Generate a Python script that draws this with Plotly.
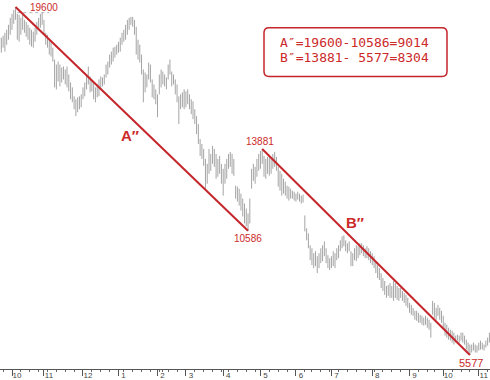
import pandas as pd
import plotly.graph_objects as go

# ---------------- data ----------------
holidays = ["2007-10-01", "2007-10-02", "2007-10-03", "2007-10-04", "2007-10-05",
            "2007-12-31", "2008-01-01", "2008-02-06", "2008-02-07", "2008-02-08",
            "2008-02-11", "2008-02-12", "2008-04-04", "2008-05-01", "2008-05-02",
            "2008-06-09", "2008-09-15", "2008-09-29", "2008-09-30", "2008-10-01",
            "2008-10-02", "2008-10-03"]
first_day = "2007-09-20"
last_day = "2008-11-11"

highs = (
    # Sep 2007
    [18400, 18360, 18440, 18560, 18680, 18880, 19160]
    # Oct 2007
    + [19320, 19480, 19600, 19320, 19280, 19160, 19280, 19080, 19000, 18880, 18760, 18680,
       18600, 18760, 19000, 19160, 19320, 19360]
    # Nov 2007
    + [19080, 18560, 18480, 18280, 18200, 17960, 17480, 17280, 17400, 17280, 17160, 17200,
       17080, 17200, 16880, 16560, 16360, 16000, 15880, 15960, 16000, 16080]
    # Dec 2007
    + [16360, 16560, 16880, 17200, 16800, 16680, 16560, 16360, 16480, 16680, 16800, 16760,
       16880, 17280, 17400, 17680, 17800, 17960, 18000, 18080]
    # Jan 2008
    + [18200, 18360, 18560, 18680, 18880, 19080, 19160, 19200, 19200, 19080, 18800, 18280,
       18080, 17680, 17080, 16960, 16880, 17360, 17280, 16680, 16480, 16280]
    # Feb 2008
    + [16080, 16880, 17080, 17000, 16880, 16760, 17280, 17480, 17000, 16880, 16680, 16480,
       16000, 16080, 16160, 16280]
    # Mar 2008
    + [16200, 16280, 16080, 15880, 15800, 15480, 15200, 14880, 14280, 14080, 13880, 13480,
       13280, 13880, 13680, 14000, 13880, 13680, 13480, 13600, 13280]
    # Apr 2008
    + [13080, 13280, 13480, 13680, 13760, 13680, 13480, 12400, 12360, 12280, 12080, 11880,
       11680, 11480, 11280, 11880, 13080, 13280, 13160, 13480, 13680]
    # May 2008
    + [13800, 13881, 13600, 13480, 13560, 13600, 13480, 13680, 13760, 13560, 13160, 13000,
       12880, 12680, 12560, 12400, 12360, 12280, 12200, 12160]
    # Jun 2008
    + [12080, 12160, 12080, 12000, 12040, 11200, 10680, 10480, 10000, 9880, 9680, 9760,
       9560, 9680, 9880, 10000, 10160, 9880, 9600, 9480]
    # Jul 2008
    + [9560, 9760, 9680, 9880, 10000, 10200, 10360, 10400, 10200, 10080, 10160, 9760,
       9680, 9880, 10000, 9960, 10080, 10080, 10000, 9880, 9960, 9880, 9760]
    # Aug 2008
    + [9680, 9560, 9360, 9200, 9080, 8880, 8680, 8560, 8360, 8400, 8480, 8360,
       8560, 8480, 8360, 8280, 8280, 8160, 8080, 8000, 7880]
    # Sep 2008
    + [7680, 7600, 7480, 7360, 7360, 7280, 7200, 7160, 7080, 7160, 7080, 7000,
       6880, 7760, 7680, 7480, 7600, 7480, 7360]
    # Oct 2008
    + [7160, 6880, 6800, 6680, 6600, 6560, 6480, 6360, 6400, 6360, 6480, 6480,
       6360, 6200, 6080, 6000, 6000, 6080, 6000, 5960]
    # Nov 2008
    + [6080, 6160, 6080, 6000, 6160, 6280, 6480]
)

lows = (
    [17880, 17760, 17960, 17800, 18080, 18280, 18480]
    + [18680, 18920, 19080, 18280, 18200, 18480, 18680, 18560, 18400, 18280, 18080, 18000,
       17960, 18200, 18480, 18680, 18760, 18880]
    + [18480, 18080, 17960, 17680, 17600, 17400, 16360, 16280, 16600, 16400, 16560, 16680,
       16480, 16360, 16200, 15880, 15760, 15480, 15200, 15360, 15480, 15560]
    + [15880, 16000, 16280, 16480, 16160, 16200, 15880, 15760, 15960, 16000, 16280, 16400,
       16480, 16760, 16880, 17160, 17280, 17400, 17560, 17680]
    + [17760, 17800, 18080, 18200, 18280, 18480, 18680, 18880, 18800, 18480, 17680, 17480,
       17360, 16880, 15760, 16160, 16360, 16680, 16560, 15960, 15880, 15680]
    + [15160, 16080, 16360, 16480, 16400, 16280, 16680, 16880, 16400, 16480, 16080, 15760,
       14880, 15480, 15560, 15480]
    + [15560, 15680, 15480, 15280, 15080, 14880, 14480, 14080, 13600, 13480, 13200, 12280,
       12480, 12880, 13000, 13280, 13160, 12680, 12760, 12880, 12480]
    + [12000, 12480, 12680, 13080, 13160, 12880, 12800, 11880, 11760, 11600, 11400, 11160,
       10880, 10760, 10586, 10880, 12280, 12600, 12480, 12760, 13000]
    + [13080, 13280, 12760, 12680, 12880, 12800, 12880, 13080, 13160, 13000, 12360, 12200,
       12000, 12080, 12000, 11880, 11800, 11880, 11880, 11800]
    + [11760, 11840, 11760, 11680, 11720, 10560, 10200, 9880, 9400, 9200, 9080, 9160,
       8880, 9080, 9280, 9360, 9560, 9280, 9080, 9000]
    + [9080, 9160, 9080, 9400, 9480, 9760, 9880, 9960, 9760, 9680, 9760, 9160,
       9160, 9400, 9360, 9480, 9600, 9680, 9560, 9480, 9480, 9400, 9280]
    + [9200, 9080, 8880, 8680, 8600, 8280, 8160, 8000, 7880, 7960, 7880, 7880,
       7760, 7880, 7800, 7760, 7880, 7760, 7680, 7560, 7480]
    + [7280, 7200, 7160, 7000, 6960, 6880, 6880, 6800, 6760, 6800, 6680, 6600,
       6280, 7200, 7080, 7000, 7160, 7000, 6880]
    + [6680, 6360, 6280, 6200, 6160, 6080, 6000, 6080, 6160, 6080, 6160, 6080,
       6000, 5800, 5680, 5577, 5680, 5760, 5680, 5680]
    + [5760, 5800, 5800, 5760, 5880, 5960, 6080]
)

month_ticks = ["2007-10-08", "2007-11-01", "2007-12-03", "2008-01-02", "2008-02-01",
               "2008-03-03", "2008-04-01", "2008-05-05", "2008-06-02", "2008-07-01",
               "2008-08-01", "2008-09-01", "2008-10-06", "2008-11-03"]
month_labels = ["10", "11", "12", "1", "2", "3", "4", "5", "6", "7", "8", "9", "10", "11"]

line_a_dates = ["2007-10-10", "2008-04-22"]
line_a_values = [19600, 10586]
line_b_dates = ["2008-05-06", "2008-10-27"]
line_b_values = [13881, 5577]
leader_dates = ["2007-10-11", "2007-11-06"]
leader_values = [19370, 19370]

summary_lines = ["A″=19600-10586=9014", "B″=13881- 5577=8304"]

# ---------------- figure ----------------
days = [d for d in pd.bdate_range(first_day, last_day) if d.strftime("%Y-%m-%d") not in holidays]
assert len(days) == len(highs) == len(lows), (len(days), len(highs), len(lows))

bx, by = [], []
for d, h, l in zip(days, highs, lows):
    bx += [d, d, None]
    by += [l, h, None]

RED = "#c4262b"
TXT = "#cc2a2a"

fig = go.Figure()
fig.add_trace(go.Scatter(x=bx, y=by, mode="lines", line=dict(color="#a4a4a4", width=1),
                         hoverinfo="skip", showlegend=False))
fig.add_trace(go.Scatter(x=leader_dates, y=leader_values, mode="lines",
                         line=dict(color="#b0b0b0", width=1, dash="dot"), showlegend=False))
fig.add_trace(go.Scatter(x=line_a_dates, y=line_a_values, mode="lines",
                         line=dict(color=RED, width=2), showlegend=False))
fig.add_trace(go.Scatter(x=line_b_dates, y=line_b_values, mode="lines",
                         line=dict(color=RED, width=2), showlegend=False))

lab_font = dict(family="Liberation Sans, Arial, sans-serif", size=10, color=TXT)
ann = [
    dict(x=line_a_dates[0], y=line_a_values[0], text="19600", xanchor="left", yanchor="middle",
         xshift=12, yshift=-1, showarrow=False, font=lab_font),
    dict(x=line_a_dates[1], y=line_a_values[1], text="10586", xanchor="center", yanchor="top",
         yshift=0, showarrow=False, font=lab_font),
    dict(x=line_b_dates[0], y=line_b_values[0], text="13881", xanchor="center", yanchor="bottom",
         xshift=-2, yshift=0, showarrow=False, font=lab_font),
    dict(x=line_b_dates[1], y=line_b_values[1], text="5577", xanchor="center", yanchor="top",
         xshift=1, yshift=0, showarrow=False,
         font=dict(family="Liberation Sans, Arial, sans-serif", size=11, color=TXT)),
    dict(x=119 / 490, y=1 - 136 / 371, xref="paper", yref="paper", text="<b>A″</b>",
         showarrow=False, font=dict(family="Liberation Sans, Arial, sans-serif", size=15, color=TXT)),
    dict(x=366 / 490, y=1 - 224 / 371, xref="paper", yref="paper", text="<b>B″</b>",
         showarrow=False, font=dict(family="Liberation Sans, Arial, sans-serif", size=15, color=TXT)),
]
for k, t in enumerate(summary_lines):
    ann.append(dict(x=278 / 490, y=1 - (43 + 15 * k) / 371, xref="paper", yref="paper",
                    text=t, xanchor="left", yanchor="middle", showarrow=False,
                    font=dict(family="DejaVu Sans Mono, monospace", size=13, color=TXT)))

# rounded box (paper coords)
x0, x1 = 264 / 490, 447 / 490
y0, y1 = 1 - 77 / 371, 1 - 28 / 371
rx, ry = 5 / 490, 5 / 371
path = (f"M {x0+rx},{y1} L {x1-rx},{y1} Q {x1},{y1} {x1},{y1-ry} "
        f"L {x1},{y0+ry} Q {x1},{y0} {x1-rx},{y0} L {x0+rx},{y0} Q {x0},{y0} {x0},{y0+ry} "
        f"L {x0},{y1-ry} Q {x0},{y1} {x0+rx},{y1} Z")

fig.update_layout(
    width=490, height=380,
    margin=dict(l=0, r=0, t=0, b=9),
    paper_bgcolor="white", plot_bgcolor="white",
    annotations=ann,
    shapes=[dict(type="path", xref="paper", yref="paper", path=path,
                 line=dict(color=RED, width=1.5))],
    showlegend=False,
)
fig.update_xaxes(
    type="date",
    range=["2007-09-20 05:45", "2008-11-11 08:00"],
    rangebreaks=[dict(bounds=["sat", "mon"]), dict(values=holidays)],
    tickvals=month_ticks, ticktext=month_labels,
    ticks="outside", ticklen=6, tickcolor="#555", tickwidth=1,
    tickfont=dict(family="Liberation Sans, Arial, sans-serif", size=8, color="#444"),
    ticklabelshift=5, ticklabelstandoff=-8,
    showline=True, linecolor="#555", linewidth=1,
    showgrid=False, zeroline=False,
    minor=dict(ticks="outside", ticklen=2, tickcolor="#666", dtick=604800000,
               tick0="2007-09-24", showgrid=False),
)
fig.update_yaxes(range=[5016, 19880], visible=False)

fig.write_html("out.html")
